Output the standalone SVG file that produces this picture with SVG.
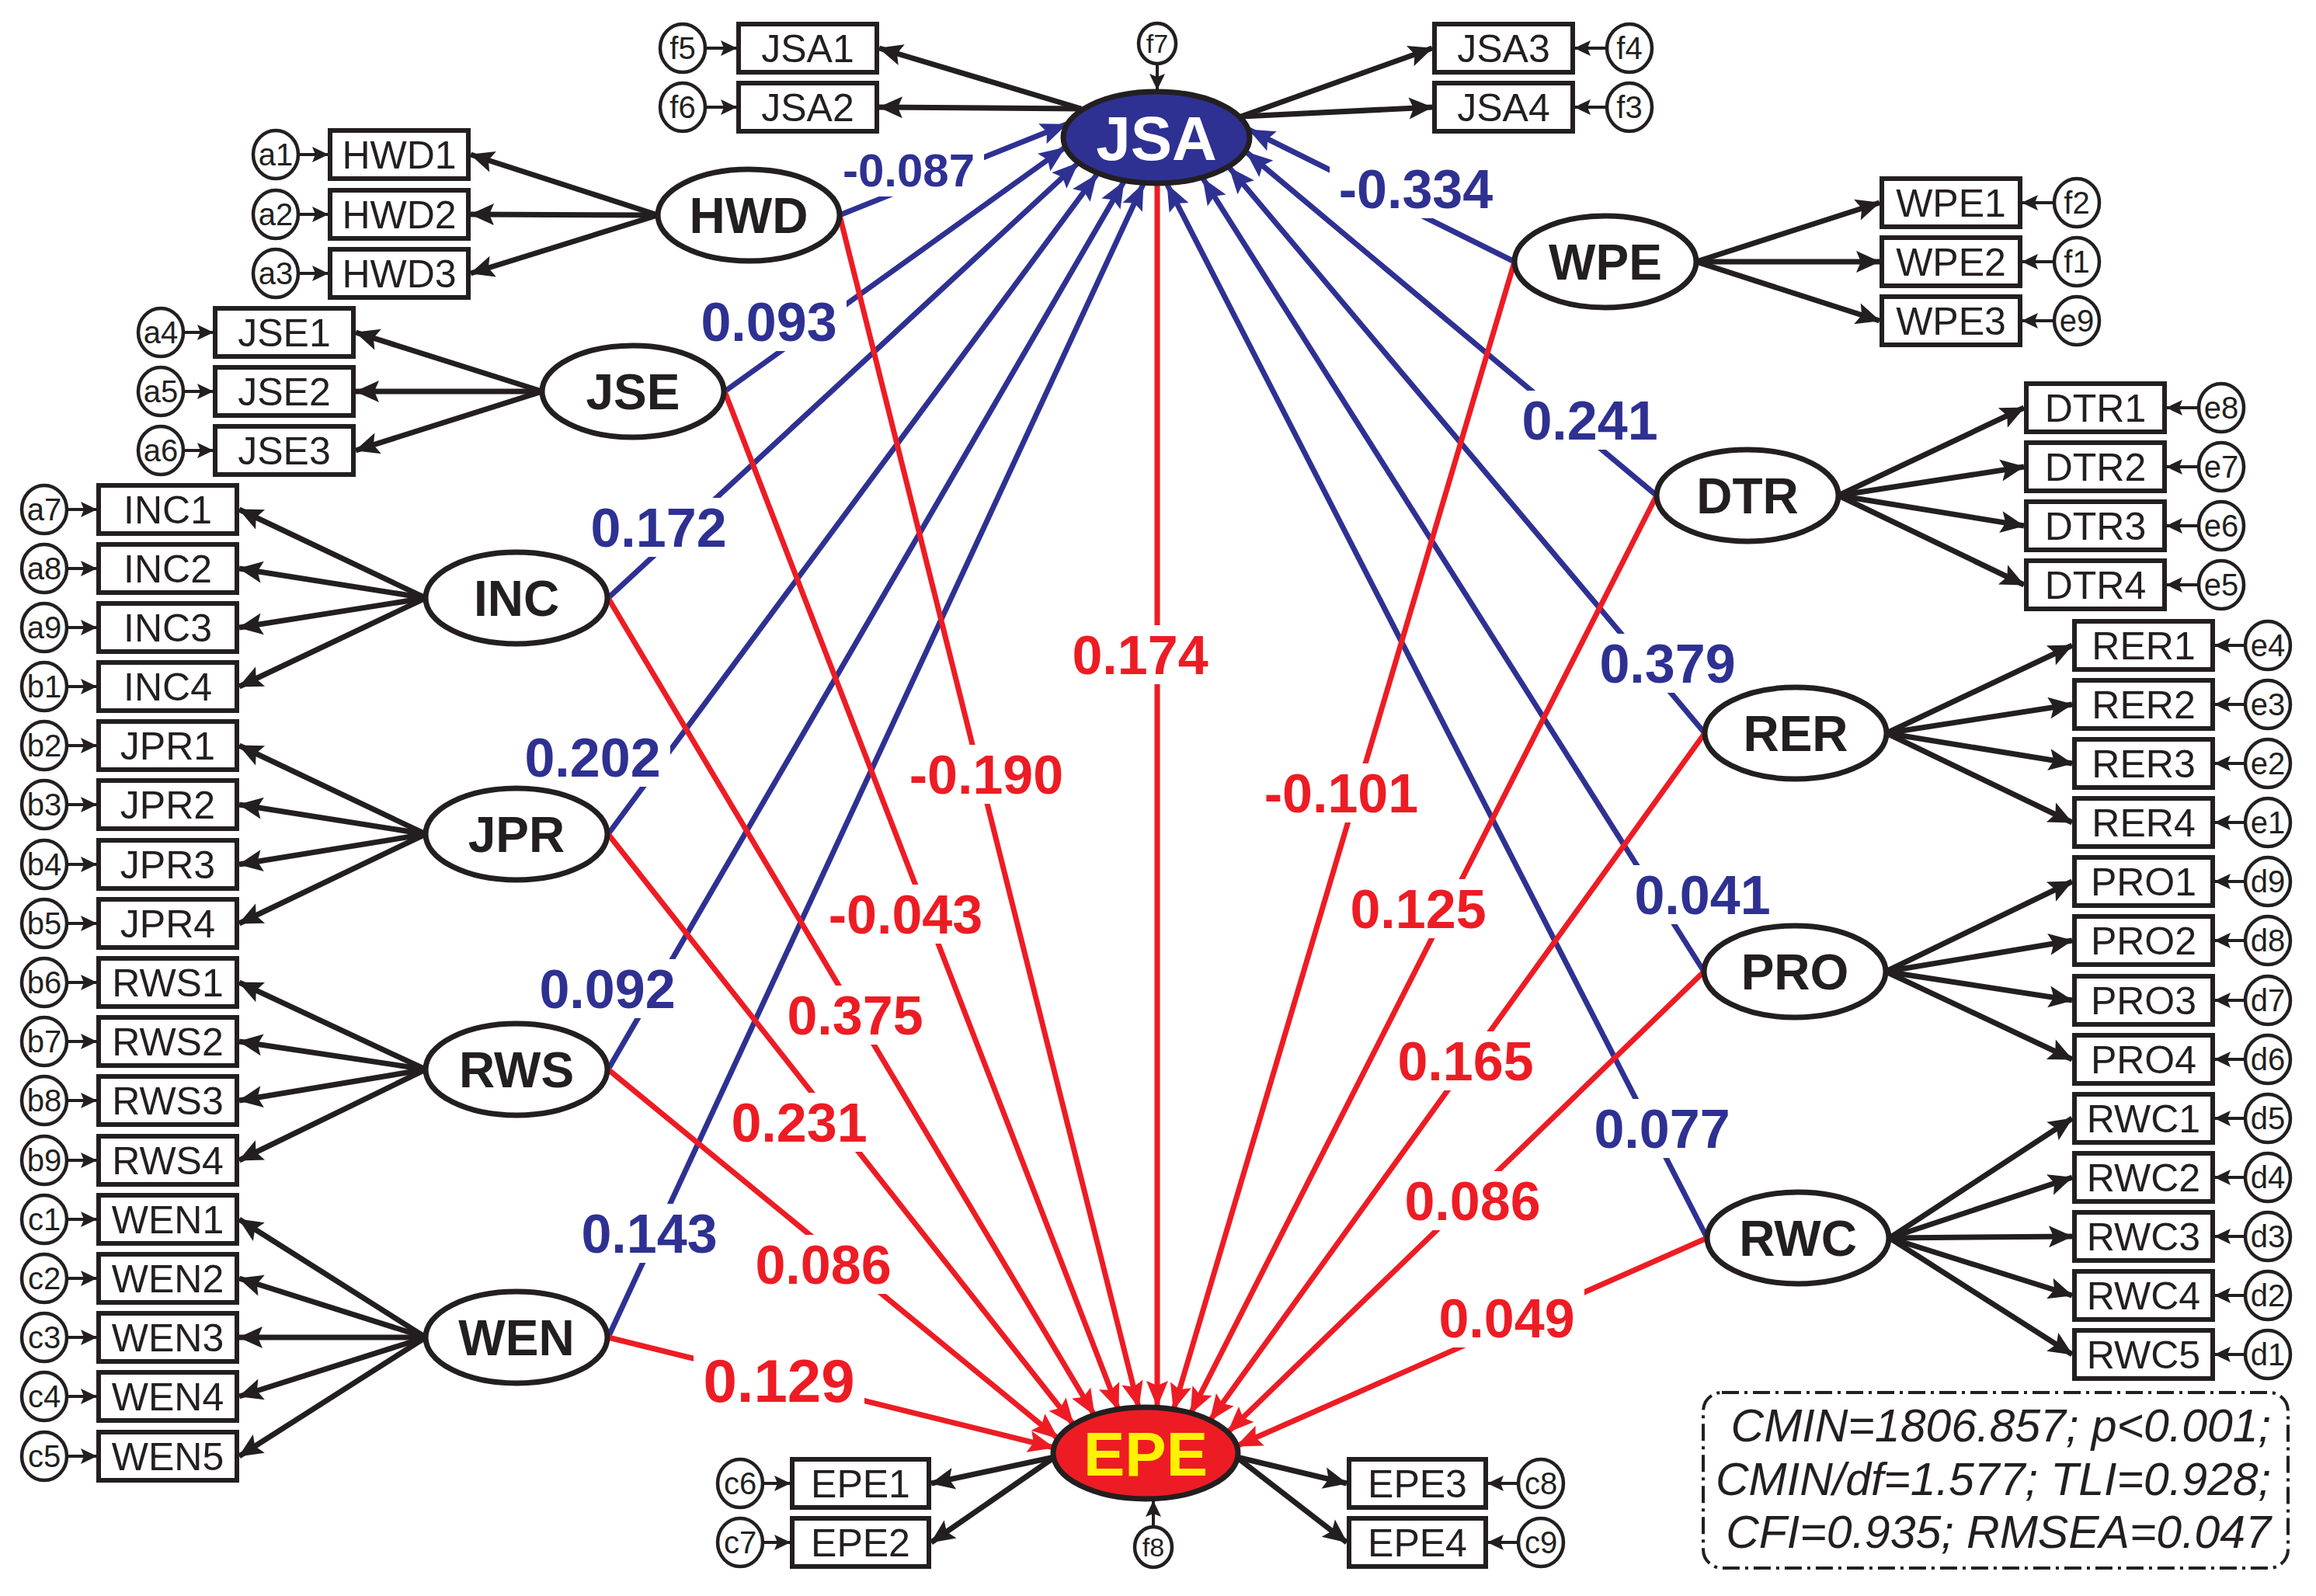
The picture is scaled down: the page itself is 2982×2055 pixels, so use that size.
<svg xmlns="http://www.w3.org/2000/svg" width="2982" height="2055" viewBox="0 0 2982 2055">
<style>
.box{fill:#fff;stroke:#231F20;stroke-width:6}
.err{fill:#fff;stroke:#231F20;stroke-width:4.5}
.lat{fill:#fff;stroke:#231F20;stroke-width:7}
text{font-family:'Liberation Sans',Arial,sans-serif;text-anchor:middle}
.ind{font-size:50px;fill:#231F20}
.et{font-size:40px;fill:#231F20}
.es{font-size:34px;fill:#231F20}
.lt{font-size:64px;font-weight:bold;fill:#231F20}
.bt{font-size:80px;font-weight:bold}
.ld{stroke:#231F20;stroke-width:7;marker-end:url(#ak)}
.ea{stroke:#231F20;stroke-width:4;marker-end:url(#as)}
.pb{stroke:#2E3192;stroke-width:7;marker-end:url(#ab)}
.pr{stroke:#ED1C24;stroke-width:7;marker-end:url(#ar)}
.lb{font-size:70px;font-weight:bold}
.bl{fill:#2E3192}
.rd{fill:#ED1C24}
.bg{fill:#fff}
.fit{font-size:59px;font-style:italic;fill:#231F20;text-anchor:end}
</style>
<defs>
<marker id="ak" markerUnits="userSpaceOnUse" markerWidth="40" markerHeight="40" viewBox="-34 -20 40 40" refX="0" refY="0" orient="auto"><path d="M1,0 L-30,-14 L-24,0 L-30,14 Z" fill="#231F20"/></marker>
<marker id="as" markerUnits="userSpaceOnUse" markerWidth="26" markerHeight="26" viewBox="-22 -13 26 26" refX="0" refY="0" orient="auto"><path d="M1,0 L-20,-10 L-16,0 L-20,10 Z" fill="#231F20"/></marker>
<marker id="ab" markerUnits="userSpaceOnUse" markerWidth="40" markerHeight="40" viewBox="-36 -20 40 40" refX="0" refY="0" orient="auto"><path d="M1,0 L-33,-14 L-27,0 L-33,14 Z" fill="#2E3192"/></marker>
<marker id="ar" markerUnits="userSpaceOnUse" markerWidth="40" markerHeight="40" viewBox="-36 -20 40 40" refX="0" refY="0" orient="auto"><path d="M1,0 L-33,-14 L-27,0 L-33,14 Z" fill="#ED1C24"/></marker>
</defs>
<rect width="2982" height="2055" fill="#fff"/>

<g id="connectors">
<line class="pb" x1="1081" y1="277" x2="1373" y2="160"/>
<line class="pb" x1="933" y1="504" x2="1371" y2="190"/>
<line class="pb" x1="783" y1="770" x2="1388" y2="210"/>
<line class="pb" x1="783" y1="1074" x2="1412" y2="225"/>
<line class="pb" x1="783" y1="1377" x2="1447" y2="234"/>
<line class="pb" x1="783" y1="1722" x2="1472" y2="237"/>
<line class="pb" x1="1950" y1="337" x2="1608" y2="167"/>
<line class="pb" x1="2133" y1="638" x2="1605" y2="196"/>
<line class="pb" x1="2195" y1="944" x2="1583" y2="216"/>
<line class="pb" x1="2194" y1="1251" x2="1549" y2="230"/>
<line class="pb" x1="2198" y1="1594" x2="1503" y2="238"/>
<line class="pr" x1="1081" y1="277" x2="1466" y2="1812"/>
<line class="pr" x1="933" y1="504" x2="1440" y2="1815"/>
<line class="pr" x1="783" y1="770" x2="1409" y2="1822"/>
<line class="pr" x1="783" y1="1074" x2="1382" y2="1834"/>
<line class="pr" x1="783" y1="1377" x2="1362" y2="1852"/>
<line class="pr" x1="783" y1="1722" x2="1357" y2="1864"/>
<line class="pr" x1="1490" y1="236" x2="1490" y2="1811"/>
<line class="pr" x1="1950" y1="337" x2="1511" y2="1815"/>
<line class="pr" x1="2133" y1="638" x2="1533" y2="1820"/>
<line class="pr" x1="2195" y1="944" x2="1558" y2="1829"/>
<line class="pr" x1="2194" y1="1251" x2="1581" y2="1844"/>
<line class="pr" x1="2198" y1="1594" x2="1592" y2="1862"/>
<line class="ld" x1="1392" y1="140" x2="1132" y2="62"/>
<line class="ld" x1="1392" y1="140" x2="1132" y2="138"/>
<line class="ld" x1="1598" y1="150" x2="1844" y2="62"/>
<line class="ld" x1="1598" y1="150" x2="1844" y2="138"/>
<line class="ld" x1="1358" y1="1876" x2="1199" y2="1910"/>
<line class="ld" x1="1358" y1="1876" x2="1199" y2="1986"/>
<line class="ld" x1="1592" y1="1876" x2="1734" y2="1910"/>
<line class="ld" x1="1592" y1="1876" x2="1734" y2="1986"/>
<line class="ld" x1="847" y1="277" x2="606" y2="199"/>
<line class="ld" x1="847" y1="277" x2="606" y2="276"/>
<line class="ld" x1="847" y1="277" x2="606" y2="352"/>
<line class="ld" x1="698" y1="504" x2="458" y2="428"/>
<line class="ld" x1="698" y1="504" x2="458" y2="504"/>
<line class="ld" x1="698" y1="504" x2="458" y2="580"/>
<line class="ld" x1="548" y1="770" x2="308" y2="656"/>
<line class="ld" x1="548" y1="770" x2="308" y2="732"/>
<line class="ld" x1="548" y1="770" x2="308" y2="808"/>
<line class="ld" x1="548" y1="770" x2="308" y2="884"/>
<line class="ld" x1="548" y1="1074" x2="308" y2="960"/>
<line class="ld" x1="548" y1="1074" x2="308" y2="1036"/>
<line class="ld" x1="548" y1="1074" x2="308" y2="1113"/>
<line class="ld" x1="548" y1="1074" x2="308" y2="1189"/>
<line class="ld" x1="548" y1="1377" x2="308" y2="1265"/>
<line class="ld" x1="548" y1="1377" x2="308" y2="1341"/>
<line class="ld" x1="548" y1="1377" x2="308" y2="1417"/>
<line class="ld" x1="548" y1="1377" x2="308" y2="1494"/>
<line class="ld" x1="548" y1="1722" x2="308" y2="1570"/>
<line class="ld" x1="548" y1="1722" x2="308" y2="1646"/>
<line class="ld" x1="548" y1="1722" x2="308" y2="1722"/>
<line class="ld" x1="548" y1="1722" x2="308" y2="1798"/>
<line class="ld" x1="548" y1="1722" x2="308" y2="1875"/>
<line class="ld" x1="2184" y1="337" x2="2420" y2="261"/>
<line class="ld" x1="2184" y1="337" x2="2420" y2="337"/>
<line class="ld" x1="2184" y1="337" x2="2420" y2="413"/>
<line class="ld" x1="2367" y1="638" x2="2606" y2="525"/>
<line class="ld" x1="2367" y1="638" x2="2606" y2="601"/>
<line class="ld" x1="2367" y1="638" x2="2606" y2="677"/>
<line class="ld" x1="2367" y1="638" x2="2606" y2="753"/>
<line class="ld" x1="2429" y1="944" x2="2668" y2="831"/>
<line class="ld" x1="2429" y1="944" x2="2668" y2="907"/>
<line class="ld" x1="2429" y1="944" x2="2668" y2="983"/>
<line class="ld" x1="2429" y1="944" x2="2668" y2="1059"/>
<line class="ld" x1="2428" y1="1251" x2="2668" y2="1135"/>
<line class="ld" x1="2428" y1="1251" x2="2668" y2="1211"/>
<line class="ld" x1="2428" y1="1251" x2="2668" y2="1288"/>
<line class="ld" x1="2428" y1="1251" x2="2668" y2="1364"/>
<line class="ld" x1="2433" y1="1594" x2="2668" y2="1440"/>
<line class="ld" x1="2433" y1="1594" x2="2668" y2="1516"/>
<line class="ld" x1="2433" y1="1594" x2="2668" y2="1592"/>
<line class="ld" x1="2433" y1="1594" x2="2668" y2="1668"/>
<line class="ld" x1="2433" y1="1594" x2="2668" y2="1744"/>
<line class="ea" x1="1490" y1="82" x2="1490" y2="115"/>
<line class="ea" x1="1485" y1="1966" x2="1485" y2="1933"/>
<line class="ea" x1="908" y1="62" x2="948" y2="62"/>
<line class="ea" x1="908" y1="138" x2="948" y2="138"/>
<line class="ea" x1="2069" y1="62" x2="2028" y2="62"/>
<line class="ea" x1="2069" y1="138" x2="2028" y2="138"/>
<line class="ea" x1="982" y1="1910" x2="1017" y2="1910"/>
<line class="ea" x1="982" y1="1986" x2="1017" y2="1986"/>
<line class="ea" x1="1955" y1="1910" x2="1916" y2="1910"/>
<line class="ea" x1="1955" y1="1986" x2="1916" y2="1986"/>
<line class="ea" x1="384" y1="199" x2="422" y2="199"/>
<line class="ea" x1="384" y1="276" x2="422" y2="276"/>
<line class="ea" x1="384" y1="352" x2="422" y2="352"/>
<line class="ea" x1="236" y1="428" x2="274" y2="428"/>
<line class="ea" x1="236" y1="504" x2="274" y2="504"/>
<line class="ea" x1="236" y1="580" x2="274" y2="580"/>
<line class="ea" x1="86" y1="656" x2="124" y2="656"/>
<line class="ea" x1="86" y1="732" x2="124" y2="732"/>
<line class="ea" x1="86" y1="808" x2="124" y2="808"/>
<line class="ea" x1="86" y1="884" x2="124" y2="884"/>
<line class="ea" x1="86" y1="960" x2="124" y2="960"/>
<line class="ea" x1="86" y1="1036" x2="124" y2="1036"/>
<line class="ea" x1="86" y1="1113" x2="124" y2="1113"/>
<line class="ea" x1="86" y1="1189" x2="124" y2="1189"/>
<line class="ea" x1="86" y1="1265" x2="124" y2="1265"/>
<line class="ea" x1="86" y1="1341" x2="124" y2="1341"/>
<line class="ea" x1="86" y1="1417" x2="124" y2="1417"/>
<line class="ea" x1="86" y1="1494" x2="124" y2="1494"/>
<line class="ea" x1="86" y1="1570" x2="124" y2="1570"/>
<line class="ea" x1="86" y1="1646" x2="124" y2="1646"/>
<line class="ea" x1="86" y1="1722" x2="124" y2="1722"/>
<line class="ea" x1="86" y1="1798" x2="124" y2="1798"/>
<line class="ea" x1="86" y1="1875" x2="124" y2="1875"/>
<line class="ea" x1="2645" y1="261" x2="2604" y2="261"/>
<line class="ea" x1="2645" y1="337" x2="2604" y2="337"/>
<line class="ea" x1="2645" y1="413" x2="2604" y2="413"/>
<line class="ea" x1="2831" y1="525" x2="2790" y2="525"/>
<line class="ea" x1="2831" y1="601" x2="2790" y2="601"/>
<line class="ea" x1="2831" y1="677" x2="2790" y2="677"/>
<line class="ea" x1="2831" y1="753" x2="2790" y2="753"/>
<line class="ea" x1="2891" y1="831" x2="2852" y2="831"/>
<line class="ea" x1="2891" y1="907" x2="2852" y2="907"/>
<line class="ea" x1="2891" y1="983" x2="2852" y2="983"/>
<line class="ea" x1="2891" y1="1059" x2="2852" y2="1059"/>
<line class="ea" x1="2891" y1="1135" x2="2852" y2="1135"/>
<line class="ea" x1="2891" y1="1211" x2="2852" y2="1211"/>
<line class="ea" x1="2891" y1="1288" x2="2852" y2="1288"/>
<line class="ea" x1="2891" y1="1364" x2="2852" y2="1364"/>
<line class="ea" x1="2891" y1="1440" x2="2852" y2="1440"/>
<line class="ea" x1="2891" y1="1516" x2="2852" y2="1516"/>
<line class="ea" x1="2891" y1="1592" x2="2852" y2="1592"/>
<line class="ea" x1="2891" y1="1668" x2="2852" y2="1668"/>
<line class="ea" x1="2891" y1="1744" x2="2852" y2="1744"/>
</g>

<g id="path-labels">
<rect class="bg" x="1073" y="184" width="194" height="69"/>
<text class="lb bl" x="1170" y="240" style="font-size:60px">-0.087</text>
<rect class="bg" x="890" y="376" width="200" height="76"/>
<text class="lb bl" x="990" y="439">0.093</text>
<rect class="bg" x="748" y="641" width="200" height="76"/>
<text class="lb bl" x="848" y="704">0.172</text>
<rect class="bg" x="663" y="937" width="200" height="76"/>
<text class="lb bl" x="763" y="1000">0.202</text>
<rect class="bg" x="682" y="1235" width="200" height="76"/>
<text class="lb bl" x="782" y="1298">0.092</text>
<rect class="bg" x="736" y="1550" width="200" height="76"/>
<text class="lb bl" x="836" y="1613">0.143</text>
<rect class="bg" x="1712" y="205" width="222" height="76"/>
<text class="lb bl" x="1823" y="268">-0.334</text>
<rect class="bg" x="1947" y="503" width="200" height="76"/>
<text class="lb bl" x="2047" y="566">0.241</text>
<rect class="bg" x="2047" y="816" width="200" height="76"/>
<text class="lb bl" x="2147" y="879">0.379</text>
<rect class="bg" x="2092" y="1114" width="200" height="76"/>
<text class="lb bl" x="2192" y="1177">0.041</text>
<rect class="bg" x="2040" y="1415" width="200" height="76"/>
<text class="lb bl" x="2140" y="1478">0.077</text>
<rect class="bg" x="1368" y="805" width="200" height="76"/>
<text class="lb rd" x="1468" y="868">0.174</text>
<rect class="bg" x="1159" y="959" width="222" height="76"/>
<text class="lb rd" x="1270" y="1022">-0.190</text>
<rect class="bg" x="1060" y="1139" width="217" height="76"/>
<text class="lb rd" x="1166" y="1202">-0.043</text>
<rect class="bg" x="1006" y="1269" width="195" height="76"/>
<text class="lb rd" x="1101" y="1332">0.375</text>
<rect class="bg" x="938" y="1407" width="191" height="76"/>
<text class="lb rd" x="1029" y="1470">0.231</text>
<rect class="bg" x="960" y="1590" width="200" height="76"/>
<text class="lb rd" x="1060" y="1653">0.086</text>
<rect class="bg" x="893" y="1736" width="220" height="82"/>
<text class="lb rd" x="1003" y="1805" style="font-size:78px">0.129</text>
<rect class="bg" x="1616" y="983" width="222" height="76"/>
<text class="lb rd" x="1727" y="1046">-0.101</text>
<rect class="bg" x="1726" y="1132" width="200" height="76"/>
<text class="lb rd" x="1826" y="1195">0.125</text>
<rect class="bg" x="1787" y="1328" width="200" height="76"/>
<text class="lb rd" x="1887" y="1391">0.165</text>
<rect class="bg" x="1796" y="1508" width="200" height="76"/>
<text class="lb rd" x="1896" y="1571">0.086</text>
<rect class="bg" x="1840" y="1659" width="200" height="76"/>
<text class="lb rd" x="1940" y="1722">0.049</text>
</g>

<g id="latents">
<g id="JSA"><ellipse cx="1489" cy="177" rx="120" ry="59" fill="#2E3192" stroke="#231F20" stroke-width="7"/><text class="bt" x="1489" y="206" fill="#fff">JSA</text></g>
<g id="EPE"><ellipse cx="1475" cy="1871" rx="119" ry="59" fill="#ED1C24" stroke="#231F20" stroke-width="7"/><text class="bt" x="1475" y="1900" fill="#FFF200">EPE</text></g>
<g id="HWD"><ellipse class="lat" cx="964" cy="277" rx="117" ry="59"/><text class="lt" x="964" y="300">HWD</text></g>
<g id="JSE"><ellipse class="lat" cx="815" cy="504" rx="117" ry="59"/><text class="lt" x="815" y="527">JSE</text></g>
<g id="INC"><ellipse class="lat" cx="665" cy="770" rx="117" ry="59"/><text class="lt" x="665" y="793">INC</text></g>
<g id="JPR"><ellipse class="lat" cx="665" cy="1074" rx="117" ry="59"/><text class="lt" x="665" y="1097">JPR</text></g>
<g id="RWS"><ellipse class="lat" cx="665" cy="1377" rx="117" ry="59"/><text class="lt" x="665" y="1400">RWS</text></g>
<g id="WEN"><ellipse class="lat" cx="665" cy="1722" rx="117" ry="59"/><text class="lt" x="665" y="1745">WEN</text></g>
<g id="WPE"><ellipse class="lat" cx="2067" cy="337" rx="117" ry="59"/><text class="lt" x="2067" y="360">WPE</text></g>
<g id="DTR"><ellipse class="lat" cx="2250" cy="638" rx="117" ry="59"/><text class="lt" x="2250" y="661">DTR</text></g>
<g id="RER"><ellipse class="lat" cx="2312" cy="944" rx="117" ry="59"/><text class="lt" x="2312" y="967">RER</text></g>
<g id="PRO"><ellipse class="lat" cx="2311" cy="1251" rx="117" ry="59"/><text class="lt" x="2311" y="1274">PRO</text></g>
<g id="RWC"><ellipse class="lat" cx="2315" cy="1594" rx="117" ry="59"/><text class="lt" x="2315" y="1617">RWC</text></g>
</g>

<g id="indicators">
<g id="HWD1"><rect class="box" x="425" y="168" width="178" height="62"/><text class="ind" x="514" y="217">HWD1</text></g>
<g id="HWD2"><rect class="box" x="425" y="245" width="178" height="62"/><text class="ind" x="514" y="294">HWD2</text></g>
<g id="HWD3"><rect class="box" x="425" y="321" width="178" height="62"/><text class="ind" x="514" y="370">HWD3</text></g>
<g id="JSE1"><rect class="box" x="277" y="397" width="178" height="62"/><text class="ind" x="366" y="446">JSE1</text></g>
<g id="JSE2"><rect class="box" x="277" y="473" width="178" height="62"/><text class="ind" x="366" y="522">JSE2</text></g>
<g id="JSE3"><rect class="box" x="277" y="549" width="178" height="62"/><text class="ind" x="366" y="598">JSE3</text></g>
<g id="INC1"><rect class="box" x="127" y="625" width="178" height="62"/><text class="ind" x="216" y="674">INC1</text></g>
<g id="INC2"><rect class="box" x="127" y="701" width="178" height="62"/><text class="ind" x="216" y="750">INC2</text></g>
<g id="INC3"><rect class="box" x="127" y="777" width="178" height="62"/><text class="ind" x="216" y="826">INC3</text></g>
<g id="INC4"><rect class="box" x="127" y="853" width="178" height="62"/><text class="ind" x="216" y="902">INC4</text></g>
<g id="JPR1"><rect class="box" x="127" y="929" width="178" height="62"/><text class="ind" x="216" y="978">JPR1</text></g>
<g id="JPR2"><rect class="box" x="127" y="1005" width="178" height="62"/><text class="ind" x="216" y="1054">JPR2</text></g>
<g id="JPR3"><rect class="box" x="127" y="1082" width="178" height="62"/><text class="ind" x="216" y="1131">JPR3</text></g>
<g id="JPR4"><rect class="box" x="127" y="1158" width="178" height="62"/><text class="ind" x="216" y="1207">JPR4</text></g>
<g id="RWS1"><rect class="box" x="127" y="1234" width="178" height="62"/><text class="ind" x="216" y="1283">RWS1</text></g>
<g id="RWS2"><rect class="box" x="127" y="1310" width="178" height="62"/><text class="ind" x="216" y="1359">RWS2</text></g>
<g id="RWS3"><rect class="box" x="127" y="1386" width="178" height="62"/><text class="ind" x="216" y="1435">RWS3</text></g>
<g id="RWS4"><rect class="box" x="127" y="1463" width="178" height="62"/><text class="ind" x="216" y="1512">RWS4</text></g>
<g id="WEN1"><rect class="box" x="127" y="1539" width="178" height="62"/><text class="ind" x="216" y="1588">WEN1</text></g>
<g id="WEN2"><rect class="box" x="127" y="1615" width="178" height="62"/><text class="ind" x="216" y="1664">WEN2</text></g>
<g id="WEN3"><rect class="box" x="127" y="1691" width="178" height="62"/><text class="ind" x="216" y="1740">WEN3</text></g>
<g id="WEN4"><rect class="box" x="127" y="1767" width="178" height="62"/><text class="ind" x="216" y="1816">WEN4</text></g>
<g id="WEN5"><rect class="box" x="127" y="1844" width="178" height="62"/><text class="ind" x="216" y="1893">WEN5</text></g>
<g id="JSA1"><rect class="box" x="951" y="31" width="178" height="62"/><text class="ind" x="1040" y="80">JSA1</text></g>
<g id="JSA2"><rect class="box" x="951" y="107" width="178" height="62"/><text class="ind" x="1040" y="156">JSA2</text></g>
<g id="JSA3"><rect class="box" x="1847" y="31" width="178" height="62"/><text class="ind" x="1936" y="80">JSA3</text></g>
<g id="JSA4"><rect class="box" x="1847" y="107" width="178" height="62"/><text class="ind" x="1936" y="156">JSA4</text></g>
<g id="WPE1"><rect class="box" x="2423" y="230" width="178" height="62"/><text class="ind" x="2512" y="279">WPE1</text></g>
<g id="WPE2"><rect class="box" x="2423" y="306" width="178" height="62"/><text class="ind" x="2512" y="355">WPE2</text></g>
<g id="WPE3"><rect class="box" x="2423" y="382" width="178" height="62"/><text class="ind" x="2512" y="431">WPE3</text></g>
<g id="DTR1"><rect class="box" x="2609" y="494" width="178" height="62"/><text class="ind" x="2698" y="543">DTR1</text></g>
<g id="DTR2"><rect class="box" x="2609" y="570" width="178" height="62"/><text class="ind" x="2698" y="619">DTR2</text></g>
<g id="DTR3"><rect class="box" x="2609" y="646" width="178" height="62"/><text class="ind" x="2698" y="695">DTR3</text></g>
<g id="DTR4"><rect class="box" x="2609" y="722" width="178" height="62"/><text class="ind" x="2698" y="771">DTR4</text></g>
<g id="RER1"><rect class="box" x="2671" y="800" width="178" height="62"/><text class="ind" x="2760" y="849">RER1</text></g>
<g id="RER2"><rect class="box" x="2671" y="876" width="178" height="62"/><text class="ind" x="2760" y="925">RER2</text></g>
<g id="RER3"><rect class="box" x="2671" y="952" width="178" height="62"/><text class="ind" x="2760" y="1001">RER3</text></g>
<g id="RER4"><rect class="box" x="2671" y="1028" width="178" height="62"/><text class="ind" x="2760" y="1077">RER4</text></g>
<g id="PRO1"><rect class="box" x="2671" y="1104" width="178" height="62"/><text class="ind" x="2760" y="1153">PRO1</text></g>
<g id="PRO2"><rect class="box" x="2671" y="1180" width="178" height="62"/><text class="ind" x="2760" y="1229">PRO2</text></g>
<g id="PRO3"><rect class="box" x="2671" y="1257" width="178" height="62"/><text class="ind" x="2760" y="1306">PRO3</text></g>
<g id="PRO4"><rect class="box" x="2671" y="1333" width="178" height="62"/><text class="ind" x="2760" y="1382">PRO4</text></g>
<g id="RWC1"><rect class="box" x="2671" y="1409" width="178" height="62"/><text class="ind" x="2760" y="1458">RWC1</text></g>
<g id="RWC2"><rect class="box" x="2671" y="1485" width="178" height="62"/><text class="ind" x="2760" y="1534">RWC2</text></g>
<g id="RWC3"><rect class="box" x="2671" y="1561" width="178" height="62"/><text class="ind" x="2760" y="1610">RWC3</text></g>
<g id="RWC4"><rect class="box" x="2671" y="1637" width="178" height="62"/><text class="ind" x="2760" y="1686">RWC4</text></g>
<g id="RWC5"><rect class="box" x="2671" y="1713" width="178" height="62"/><text class="ind" x="2760" y="1762">RWC5</text></g>
<g id="EPE1"><rect class="box" x="1020" y="1879" width="176" height="62"/><text class="ind" x="1108" y="1928">EPE1</text></g>
<g id="EPE2"><rect class="box" x="1020" y="1955" width="176" height="62"/><text class="ind" x="1108" y="2004">EPE2</text></g>
<g id="EPE3"><rect class="box" x="1737" y="1879" width="176" height="62"/><text class="ind" x="1825" y="1928">EPE3</text></g>
<g id="EPE4"><rect class="box" x="1737" y="1955" width="176" height="62"/><text class="ind" x="1825" y="2004">EPE4</text></g>
</g>

<g id="errors">
<g id="a1"><ellipse class="err" cx="355" cy="199" rx="29" ry="31"/><text class="et" x="355" y="213">a1</text></g>
<g id="a2"><ellipse class="err" cx="355" cy="276" rx="29" ry="31"/><text class="et" x="355" y="290">a2</text></g>
<g id="a3"><ellipse class="err" cx="355" cy="352" rx="29" ry="31"/><text class="et" x="355" y="366">a3</text></g>
<g id="a4"><ellipse class="err" cx="207" cy="428" rx="29" ry="31"/><text class="et" x="207" y="442">a4</text></g>
<g id="a5"><ellipse class="err" cx="207" cy="504" rx="29" ry="31"/><text class="et" x="207" y="518">a5</text></g>
<g id="a6"><ellipse class="err" cx="207" cy="580" rx="29" ry="31"/><text class="et" x="207" y="594">a6</text></g>
<g id="a7"><ellipse class="err" cx="57" cy="656" rx="29" ry="31"/><text class="et" x="57" y="670">a7</text></g>
<g id="a8"><ellipse class="err" cx="57" cy="732" rx="29" ry="31"/><text class="et" x="57" y="746">a8</text></g>
<g id="a9"><ellipse class="err" cx="57" cy="808" rx="29" ry="31"/><text class="et" x="57" y="822">a9</text></g>
<g id="b1"><ellipse class="err" cx="57" cy="884" rx="29" ry="31"/><text class="et" x="57" y="898">b1</text></g>
<g id="b2"><ellipse class="err" cx="57" cy="960" rx="29" ry="31"/><text class="et" x="57" y="974">b2</text></g>
<g id="b3"><ellipse class="err" cx="57" cy="1036" rx="29" ry="31"/><text class="et" x="57" y="1050">b3</text></g>
<g id="b4"><ellipse class="err" cx="57" cy="1113" rx="29" ry="31"/><text class="et" x="57" y="1127">b4</text></g>
<g id="b5"><ellipse class="err" cx="57" cy="1189" rx="29" ry="31"/><text class="et" x="57" y="1203">b5</text></g>
<g id="b6"><ellipse class="err" cx="57" cy="1265" rx="29" ry="31"/><text class="et" x="57" y="1279">b6</text></g>
<g id="b7"><ellipse class="err" cx="57" cy="1341" rx="29" ry="31"/><text class="et" x="57" y="1355">b7</text></g>
<g id="b8"><ellipse class="err" cx="57" cy="1417" rx="29" ry="31"/><text class="et" x="57" y="1431">b8</text></g>
<g id="b9"><ellipse class="err" cx="57" cy="1494" rx="29" ry="31"/><text class="et" x="57" y="1508">b9</text></g>
<g id="c1"><ellipse class="err" cx="57" cy="1570" rx="29" ry="31"/><text class="et" x="57" y="1584">c1</text></g>
<g id="c2"><ellipse class="err" cx="57" cy="1646" rx="29" ry="31"/><text class="et" x="57" y="1660">c2</text></g>
<g id="c3"><ellipse class="err" cx="57" cy="1722" rx="29" ry="31"/><text class="et" x="57" y="1736">c3</text></g>
<g id="c4"><ellipse class="err" cx="57" cy="1798" rx="29" ry="31"/><text class="et" x="57" y="1812">c4</text></g>
<g id="c5"><ellipse class="err" cx="57" cy="1875" rx="29" ry="31"/><text class="et" x="57" y="1889">c5</text></g>
<g id="f5"><ellipse class="err" cx="879" cy="62" rx="29" ry="31"/><text class="et" x="879" y="76">f5</text></g>
<g id="f6"><ellipse class="err" cx="879" cy="138" rx="29" ry="31"/><text class="et" x="879" y="152">f6</text></g>
<g id="f4"><ellipse class="err" cx="2098" cy="62" rx="29" ry="31"/><text class="et" x="2098" y="76">f4</text></g>
<g id="f3"><ellipse class="err" cx="2098" cy="138" rx="29" ry="31"/><text class="et" x="2098" y="152">f3</text></g>
<g id="f7"><ellipse class="err" cx="1490" cy="56" rx="24" ry="26"/><text class="es" x="1490" y="68">f7</text></g>
<g id="f2"><ellipse class="err" cx="2674" cy="261" rx="29" ry="31"/><text class="et" x="2674" y="275">f2</text></g>
<g id="f1"><ellipse class="err" cx="2674" cy="337" rx="29" ry="31"/><text class="et" x="2674" y="351">f1</text></g>
<g id="e9"><ellipse class="err" cx="2674" cy="413" rx="29" ry="31"/><text class="et" x="2674" y="427">e9</text></g>
<g id="e8"><ellipse class="err" cx="2860" cy="525" rx="29" ry="31"/><text class="et" x="2860" y="539">e8</text></g>
<g id="e7"><ellipse class="err" cx="2860" cy="601" rx="29" ry="31"/><text class="et" x="2860" y="615">e7</text></g>
<g id="e6"><ellipse class="err" cx="2860" cy="677" rx="29" ry="31"/><text class="et" x="2860" y="691">e6</text></g>
<g id="e5"><ellipse class="err" cx="2860" cy="753" rx="29" ry="31"/><text class="et" x="2860" y="767">e5</text></g>
<g id="e4"><ellipse class="err" cx="2920" cy="831" rx="29" ry="31"/><text class="et" x="2920" y="845">e4</text></g>
<g id="e3"><ellipse class="err" cx="2920" cy="907" rx="29" ry="31"/><text class="et" x="2920" y="921">e3</text></g>
<g id="e2"><ellipse class="err" cx="2920" cy="983" rx="29" ry="31"/><text class="et" x="2920" y="997">e2</text></g>
<g id="e1"><ellipse class="err" cx="2920" cy="1059" rx="29" ry="31"/><text class="et" x="2920" y="1073">e1</text></g>
<g id="d9"><ellipse class="err" cx="2920" cy="1135" rx="29" ry="31"/><text class="et" x="2920" y="1149">d9</text></g>
<g id="d8"><ellipse class="err" cx="2920" cy="1211" rx="29" ry="31"/><text class="et" x="2920" y="1225">d8</text></g>
<g id="d7"><ellipse class="err" cx="2920" cy="1288" rx="29" ry="31"/><text class="et" x="2920" y="1302">d7</text></g>
<g id="d6"><ellipse class="err" cx="2920" cy="1364" rx="29" ry="31"/><text class="et" x="2920" y="1378">d6</text></g>
<g id="d5"><ellipse class="err" cx="2920" cy="1440" rx="29" ry="31"/><text class="et" x="2920" y="1454">d5</text></g>
<g id="d4"><ellipse class="err" cx="2920" cy="1516" rx="29" ry="31"/><text class="et" x="2920" y="1530">d4</text></g>
<g id="d3"><ellipse class="err" cx="2920" cy="1592" rx="29" ry="31"/><text class="et" x="2920" y="1606">d3</text></g>
<g id="d2"><ellipse class="err" cx="2920" cy="1668" rx="29" ry="31"/><text class="et" x="2920" y="1682">d2</text></g>
<g id="d1"><ellipse class="err" cx="2920" cy="1744" rx="29" ry="31"/><text class="et" x="2920" y="1758">d1</text></g>
<g id="c6"><ellipse class="err" cx="953" cy="1910" rx="29" ry="31"/><text class="et" x="953" y="1924">c6</text></g>
<g id="c7"><ellipse class="err" cx="953" cy="1986" rx="29" ry="31"/><text class="et" x="953" y="2000">c7</text></g>
<g id="c8"><ellipse class="err" cx="1984" cy="1910" rx="29" ry="31"/><text class="et" x="1984" y="1924">c8</text></g>
<g id="c9"><ellipse class="err" cx="1984" cy="1986" rx="29" ry="31"/><text class="et" x="1984" y="2000">c9</text></g>
<g id="f8"><ellipse class="err" cx="1485" cy="1992" rx="24" ry="26"/><text class="es" x="1485" y="2004">f8</text></g>
</g>

<g id="fit-indices">
<rect x="2193" y="1793" width="753" height="226" rx="24" fill="none" stroke="#231F20" stroke-width="4" stroke-dasharray="22 7 4 7"/>
<text class="fit" x="2924" y="1856">CMIN=1806.857; p&lt;0.001;</text>
<text class="fit" x="2924" y="1925">CMIN/df=1.577; TLI=0.928;</text>
<text class="fit" x="2924" y="1993">CFI=0.935; RMSEA=0.047</text>
</g>
</svg>
